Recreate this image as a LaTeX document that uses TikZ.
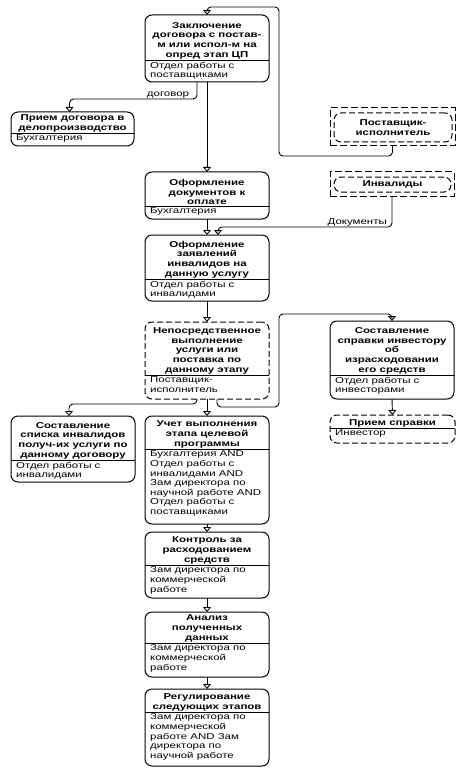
\documentclass[tikz,border=0pt]{standalone}
\usepackage{fontspec}
\setmainfont{Liberation Sans}[FakeStretch=1.35]
\usetikzlibrary{arrows.meta}
\tikzset{
  actb/.style={draw, line width=1pt, rounded corners=7pt, inner sep=0pt, outer sep=0pt},
  actd/.style={actb, dash pattern=on 6pt off 3pt},
  extb/.style={draw, line width=1pt, inner sep=0pt, outer sep=0pt, dash pattern=on 7pt off 3pt},
  exti/.style={draw, line width=1pt, rounded corners=7pt, inner sep=0pt, outer sep=0pt, dash pattern=on 6pt off 3pt},
  divl/.style={line width=0.9pt},
  ttl/.style={inner sep=1pt, align=center, font=\fontsize{8.5}{9.6}\selectfont\bfseries},
  rol/.style={inner xsep=1pt, inner ysep=1.8pt, align=left, font=\fontsize{8.5}{9.6}\selectfont},
  lbl/.style={inner sep=1pt, font=\fontsize{8.5}{9.6}\selectfont},
  conn/.style={line width=0.9pt, rounded corners=4pt, -{Triangle[open,width=8pt,length=5pt]}}
}
\newcommand\actbox[9]{%
  \node[#7, minimum width={(#4-#2)*1pt}, minimum height={(#5-#3)*1pt}, anchor=north west] (#1) at (#2,#3) {};
  \draw[divl] (#2,#6) -- (#4,#6);
  \node[ttl, anchor=south] (#1t) at ({(#2+#4)/2},#6) {#8};
  \node[rol, anchor=north west] (#1r) at (#2+4,#6) {#9};
}
\begin{document}
\begin{tikzpicture}[x=1pt,y=-1pt]
\fill[white] (0,0) rectangle (469,778);
\useasboundingbox (0,0) rectangle (469,778);

\actbox{b1}{145}{15}{269}{82}{60}{actb}{Заключение\\договора с постав-\\м или испол-м на\\опред этап  ЦП}{Отдел работы с\\поставщиками}
\actbox{b2}{11}{112}{134}{146}{133}{actb}{Прием договора в\\делопроизводство}{Бухгалтерия}
\actbox{b3}{145}{172}{269}{219}{206}{actb}{Оформление\\документов к\\оплате}{Бухгалтерия}
\actbox{b4}{145}{235}{269}{301}{279}{actb}{Оформление\\заявлений\\инвалидов на\\данную услугу}{Отдел работы с\\инвалидами}
\actbox{b5}{145}{322}{269}{399}{375}{actd}{Непосредственное\\выполнение\\услуги или\\поставка по\\данному этапу}{Поставщик-\\исполнитель}
\actbox{b6}{330}{321}{454}{399}{375}{actb}{Составление\\справки инвестору\\об\\израсходовании\\его средств}{Отдел работы с\\инвесторами}
\actbox{b7}{330}{415}{455}{443}{428}{actd}{Прием справки}{Инвестор}
\actbox{b8}{11}{416}{135}{482}{460}{actb}{Составление\\списка инвалидов\\получ-их услуги по\\данному договору}{Отдел работы с\\инвалидами}
\actbox{b9}{145}{416}{269}{524}{449}{actb}{Учет выполнения\\этапа целевой\\программы}{Бухгалтерия AND\\Отдел работы с\\инвалидами AND\\Зам директора по\\научной работе AND\\Отдел работы с\\поставщиками}
\actbox{b10}{145}{532}{269}{598}{565}{actb}{Контроль за\\расходованием\\средств}{Зам директора по\\коммерческой\\работе}
\actbox{b11}{145}{612}{269}{677}{643}{actb}{Анализ\\полученных\\данных}{Зам директора по\\коммерческой\\работе}
\actbox{b12}{145}{689}{269}{766}{712}{actb}{Регулирование\\следующих этапов}{Зам директора по\\коммерческой\\работе AND Зам\\директора по\\научной работе}

% external participants
\node[extb, minimum width=125pt, minimum height=38pt, anchor=north west] (p1) at (330,108) {};
\node[exti, minimum width=118pt, minimum height=29pt, anchor=north west] (p1i) at (334,113) {};
\node[ttl] (p1t) at (p1i.center) {Поставщик-\\исполнитель};
\node[extb, minimum width=124pt, minimum height=24pt, anchor=north west] (p2) at (330,172) {};
\node[exti, minimum width=117pt, minimum height=15pt, anchor=north west] (p2i) at (334,177) {};
\node[ttl] (p2t) at (p2i.center) {Инвалиды};

% connectors
\draw[conn] (p1.south) |- (279,156) -- (279,7) -| (b1.north);
\draw[conn] ([xshift=-10pt]b1.south) -- ++(0,17) -| ([xshift=-3pt]b2.north);
\node[lbl, anchor=south] (l1) at (168,99) {договор};
\draw[conn] (b1.south) -- (b3.north);
\draw[conn] (b3.south) -- (b4.north);
\draw[conn] (p2.south) |- (218,227) -- ([xshift=11pt]b4.north);
\node[lbl, anchor=south east] (l2) at (388,227) {Документы};
\draw[conn] (b4.south) -- (b5.north);
\draw[conn] ([xshift=-10pt]b5.south) -- ++(0,5) -| ([xshift=-4pt]b8.north);
\draw[conn] (b5.south) -- (b9.north);
\draw[conn] ([xshift=10pt]b5.south) |- (279,407) -- (279,314) -| (b6.north);
\draw[conn] (b6.south) -- (b7.north);
\draw[conn] (b9.south) -- (b10.north);
\draw[conn] (b10.south) -- (b11.north);
\draw[conn] (b11.south) -- (b12.north);
\end{tikzpicture}
\end{document}
